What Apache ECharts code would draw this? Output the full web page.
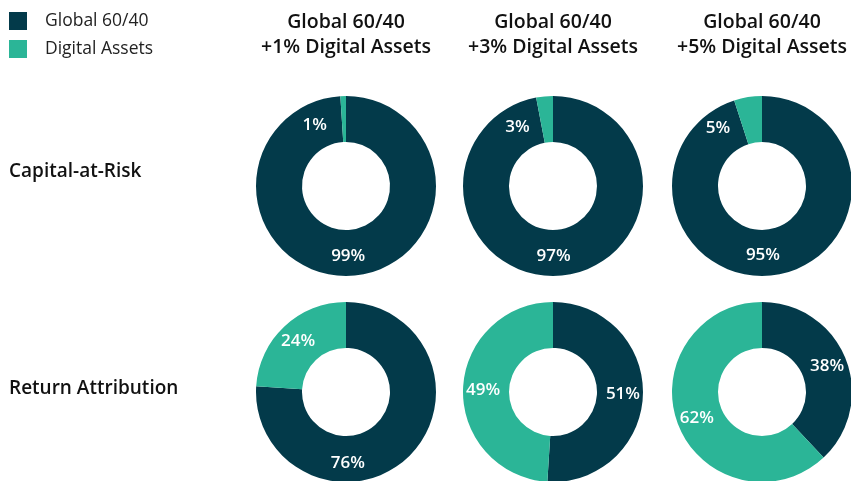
<!DOCTYPE html>
<html><head><meta charset="utf-8">
<script src="https://cdn.jsdelivr.net/npm/echarts@6/dist/echarts.min.js"></script>
<style>html,body{margin:0;padding:0;background:#fff}#c{width:851px;height:481px}</style>
</head><body><div id="c"></div>
<script>
const seriesNames = ['Global 60/40', 'Digital Assets'];
const columnTitles = ['Global 60/40\n+1% Digital Assets', 'Global 60/40\n+3% Digital Assets', 'Global 60/40\n+5% Digital Assets'];
const rowTitles = ['Capital-at-Risk', 'Return Attribution'];
const globalCapital = [99, 97, 95];
const digitalCapital = [1, 3, 5];
const globalReturn = [76, 51, 38];
const digitalReturn = [24, 49, 62];

const colors = ['#033a4a', '#2bb597'];
const colX = [346, 553, 762];
const rowY = [186, 392];
const rowTitleTop = [162, 379];
// label nudges (style only)
const capOffsets = [[[0,0],[-29,9]], [[-6,0],[-29,11]], [[-10,0],[-33,11]]];
const retOffsets = [[[-46,20],[0,0]], [[0,0],[0,0]], [[0,0],[0,0]]];

const font = '"Open Sans", Lato, sans-serif';
const rowData = [[globalCapital, digitalCapital, capOffsets], [globalReturn, digitalReturn, retOffsets]];

const series = [];
rowData.forEach(([g, d, offs], r) => {
  g.forEach((gv, c) => {
    series.push({
      type: 'pie',
      center: [colX[c], rowY[r]],
      radius: [44, 90],
      startAngle: 90,
      clockwise: true,
      silent: true,
      avoidLabelOverlap: false,
      color: colors,
      label: {
        show: true, position: 'inside', formatter: '{c}%',
        color: '#fff', fontFamily: font, fontWeight: 600, fontSize: 17
      },
      labelLine: { show: false },
      data: [
        { name: seriesNames[0], value: gv, label: { offset: offs[c][0] } },
        { name: seriesNames[1], value: d[c], label: { offset: offs[c][1] } }
      ]
    });
  });
});

const titles = [];
columnTitles.forEach((t, c) => titles.push({
  text: t, left: colX[c], top: 10, textAlign: 'center', padding: 0,
  textStyle: { fontFamily: font, fontWeight: 600, fontSize: 19.5, lineHeight: 25, color: '#111' }
}));
rowTitles.forEach((t, r) => titles.push({
  text: t, left: 9, top: rowTitleTop[r], textAlign: 'left', padding: 0,
  textStyle: { fontFamily: font, fontWeight: 600, fontSize: 19, color: '#111' }
}));

const chart = echarts.init(document.getElementById('c'), null, { renderer: 'canvas' });
chart.setOption({
  animation: false,
  title: titles,
  legend: {
    orient: 'vertical', left: 9, top: 12, padding: 0, itemWidth: 18, itemHeight: 18, itemGap: 10,
    icon: 'rect', data: seriesNames, selectedMode: false,
    textStyle: { fontFamily: font, fontSize: 17.5, color: '#222', padding: [0, 0, 0, 13] }
  },
  series
});
</script></body></html>
